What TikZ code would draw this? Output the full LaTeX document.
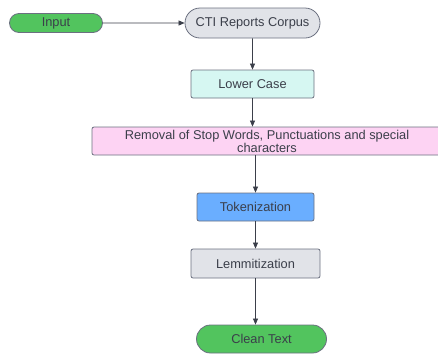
\documentclass[tikz,border=0pt]{standalone}
\usepackage{fontspec}
\setmainfont{Liberation Sans}
\usetikzlibrary{arrows.meta,shapes.misc}

\definecolor{inkgray}{HTML}{3B3F4A}
\definecolor{edgegray}{HTML}{6B7080}
\definecolor{termgreen}{HTML}{52C45E}
\definecolor{corpusgray}{HTML}{E1E3E8}
\definecolor{mintcyan}{HTML}{D6F7F2}
\definecolor{stoppink}{HTML}{FDD3F3}
\definecolor{tokblue}{HTML}{6AAEFF}

\tikzset{
  box/.style={draw=edgegray, line width=0.8pt, rounded corners=2pt, inner sep=0pt,
    text=inkgray, font=\fontsize{12.8}{13}\selectfont},
  term/.style={box, sharp corners, rounded rectangle},
  flow/.style={draw=inkgray, line width=0.7pt, -{Triangle[length=6pt,width=5pt]}},
}

\begin{document}
\begin{tikzpicture}[x=1pt,y=-1pt]
    \useasboundingbox (0,0) rectangle (438,354);
    \clip (0,0) rectangle (438,354);

    \node[term, fill=termgreen, minimum width=93pt, minimum height=19pt] (input) at (56,23) {Input};
    \node[term, fill=corpusgray, minimum width=135pt, minimum height=30pt] (corpus) at (252.5,23) {CTI Reports Corpus};
    \node[box, fill=mintcyan, minimum width=123pt, minimum height=28pt] (lower) at (252.5,84) {Lower Case};
    \node[box, fill=stoppink, minimum width=350pt, minimum height=28pt, align=center] (stop) at (267,141)
        {Removal of Stop Words, Punctuations and special\\characters};
    \node[box, fill=tokblue, minimum width=117pt, minimum height=28pt] (token) at (255.5,207) {Tokenization};
    \node[box, fill=corpusgray, minimum width=129pt, minimum height=29pt] (lemma) at (255.5,263.5) {Lemmitization};
    \node[term, fill=termgreen, minimum width=130pt, minimum height=28pt] (clean) at (261.5,339) {Clean Text};

    \draw[flow] (input) -- (corpus);
    \draw[flow] (corpus) -- (lower);
    \draw[flow] (lower) -- (lower.south |- stop.north);
    \draw[flow] (stop.south -| token.north) -- (token);
    \draw[flow] (token) -- (lemma);
    \draw[flow] (lemma) -- (lemma.south |- clean.north);
\end{tikzpicture}
\end{document}
